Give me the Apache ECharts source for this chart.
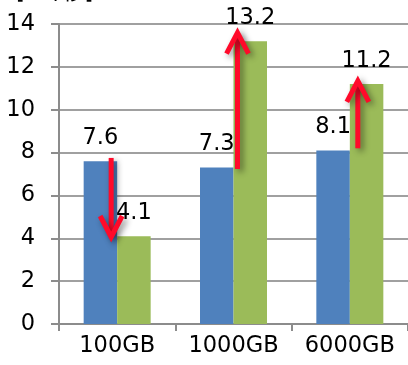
<!DOCTYPE html>
<html>
<head>
<meta charset="utf-8">
<script src="https://cdn.jsdelivr.net/npm/echarts@6/dist/echarts.min.js"></script>
<style>html,body{margin:0;padding:0;background:#fff}#c{width:408px;height:365px}</style>
</head>
<body>
<div id="c"></div>
<script>
const categories = ['100GB', '1000GB', '6000GB'];
const seriesBlue = [7.6, 7.3, 8.1];
const seriesGreen = [4.1, 13.2, 11.2];
const yTicks = [0, 2, 4, 6, 8, 10, 12, 14];
const unitLabel = '[dB/秒]';
// arrows: category index, start value, end value
const arrowCat = [0, 1, 2];
const arrowFrom = [7.75, 7.23, 8.2];
const arrowTo = [4.06, 13.6, 11.35];

const ARROW_DX = [-6, 4, 8];
const FONT = '"DejaVu Sans", "Noto Sans CJK JP", sans-serif';
const FS = 22.5;

const chart = echarts.init(document.getElementById('c'), null, {renderer: 'canvas'});
const arrowData = arrowCat.map((c, i) => [c, arrowFrom[i], arrowTo[i]]);

chart.setOption({
  animation: false,
  grid: {left: 59, right: -3, top: 24, bottom: 41, containLabel: false},
  graphic: [{
    type: 'text', x: 16, y: -18, z: 20,
    style: {text: unitLabel, font: FS + 'px ' + FONT, fill: '#000'}
  }],
  xAxis: {
    type: 'category', data: categories,
    axisLine: {lineStyle: {color: '#8c8c8c', width: 2}},
    axisTick: {show: true, length: 7, lineStyle: {color: '#8c8c8c', width: 2}},
    axisLabel: {color: '#000', fontSize: FS, fontFamily: FONT, margin: 11, interval: 0, hideOverlap: false},
    splitLine: {show: false}
  },
  yAxis: {
    type: 'value', min: yTicks[0], max: yTicks[yTicks.length - 1], interval: 2,
    axisLine: {show: true, lineStyle: {color: '#8c8c8c', width: 2}},
    axisTick: {show: true, length: 8, lineStyle: {color: '#8c8c8c', width: 2}},
    axisLabel: {color: '#000', fontSize: FS, fontFamily: FONT, margin: 24},
    splitLine: {show: true, lineStyle: {color: '#a0a0a0', width: 2}}
  },
  series: [{
    type: 'bar', data: seriesBlue, barWidth: 33.5, barGap: '0%',
    itemStyle: {color: '#4F81BD'},
    label: {show: true, position: 'top', distance: 12, color: '#000', fontSize: FS, fontFamily: FONT}
  }, {
    type: 'bar', data: seriesGreen, barWidth: 33.5, barGap: '0%',
    itemStyle: {color: '#9BBB59'},
    label: {show: true, position: 'top', distance: 12, color: '#000', fontSize: FS, fontFamily: FONT}
  }, {
    type: 'custom', data: arrowData, z: 10, clip: false,
    encode: {x: 0, y: [1, 2]},
    renderItem: function (params, api) {
      const i = params.dataIndex;
      const p0 = api.coord([api.value(0), api.value(1)]);
      const p1 = api.coord([api.value(0), api.value(2)]);
      const x = p0[0] + ARROW_DX[i];
      const y0 = p0[1], y1 = p1[1];
      const dir = y1 > y0 ? 1 : -1;
      const headLen = 21, headW = 11;
      const style = {
        stroke: '#FF0A2A', lineWidth: 5, fill: null, lineCap: 'butt', lineJoin: 'miter',
        shadowBlur: 6, shadowColor: 'rgba(0,0,0,0.45)', shadowOffsetX: 3, shadowOffsetY: 3
      };
      return {
        type: 'group',
        children: [{
          type: 'line', shape: {x1: x, y1: y0, x2: x, y2: y1 - dir * 3}, style: style
        }, {
          type: 'polyline',
          shape: {points: [[x - headW, y1 - dir * headLen], [x, y1], [x + headW, y1 - dir * headLen]]},
          style: style
        }]
      };
    }
  }]
});
</script>
</body>
</html>
